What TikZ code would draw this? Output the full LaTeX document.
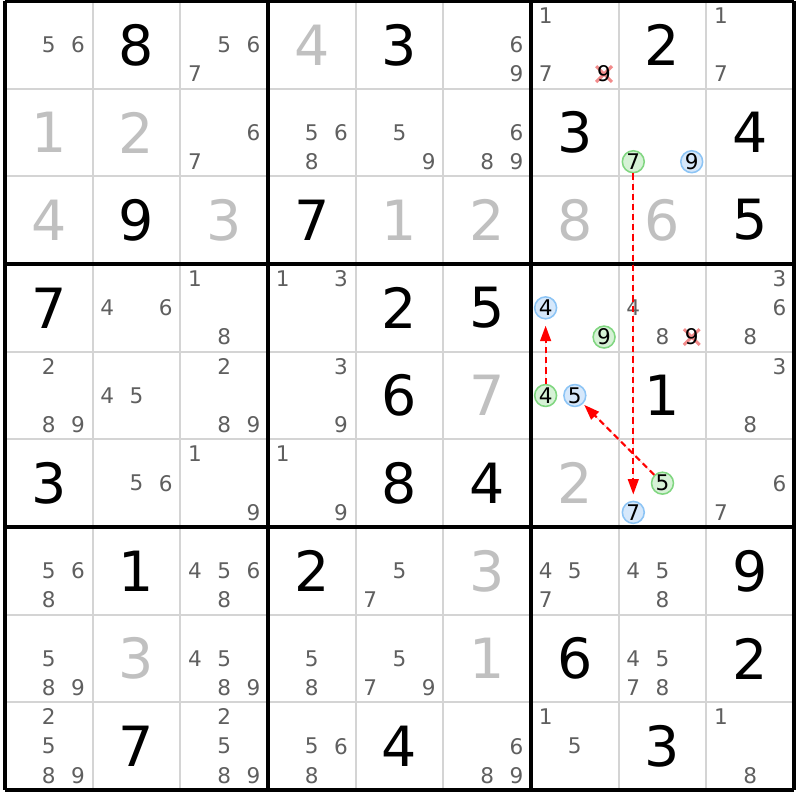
\documentclass[tikz,border=0pt]{standalone}
\usepackage{fontspec}
\setmainfont{DejaVu Sans}
\usetikzlibrary{arrows.meta}
\definecolor{candgray}{HTML}{5F5F5F}
\definecolor{solvedgray}{HTML}{C0C0C0}
\definecolor{gridgray}{HTML}{D4D4D4}
\definecolor{onfill}{HTML}{D6F2D6}
\definecolor{ondraw}{HTML}{80D680}
\definecolor{offfill}{HTML}{D6E8FB}
\definecolor{offdraw}{HTML}{8CC4F5}
\definecolor{strikered}{HTML}{F28B8B}
\definecolor{linkred}{HTML}{FF0000}
\tikzset{
	given/.style={font=\fontsize{18}{18}\selectfont, text=black, inner sep=0},
	solved/.style={font=\fontsize{18}{18}\selectfont, text=solvedgray, inner sep=0},
	cand/.style={font=\fontsize{7}{7}\selectfont, text=candgray, inner sep=0},
	oncand/.style={circle, draw=ondraw, fill=onfill, line width=.5pt, inner sep=0, minimum size=.25cm, font=\fontsize{7}{7}\selectfont},
	offcand/.style={circle, draw=offdraw, fill=offfill, line width=.5pt, inner sep=0, minimum size=.25cm, font=\fontsize{7}{7}\selectfont},
	strike/.style={draw=strikered, line width=1pt},
	link/.style={->,>={Triangle[width=3.5pt,length=5pt]}, draw=linkred, fill=linkred, line width=.65pt, dash pattern=on 2pt off 1.3pt, shorten >=2pt},
	thinline/.style={draw=gridgray, line width=.65pt},
	boxline/.style={draw=black, line width=1.1pt}
}

\begin{document}
\begin{tikzpicture}
	\fill[white] (-0.057,0.0114) rectangle (9.068,-9.114);
	\useasboundingbox (-0.057,0.0114) rectangle (9.068,-9.114);
	
	\foreach \i in {1,2,4,5,7,8} {
		\draw[thinline] (\i,0) -- (\i,-9);
		\draw[thinline] (0,-\i) -- (9,-\i);
	}
	\foreach \i in {0,3,6,9} {
		\draw[boxline] (\i,0) -- (\i,-9);
		\draw[boxline] (0,-\i) -- (9,-\i);
	}
	
	\foreach \r/\c/\d in {1/2/8, 1/5/3, 1/8/2, 2/7/3, 2/9/4, 3/2/9, 3/4/7, 3/9/5,
		4/1/7, 4/5/2, 4/6/5, 5/5/6, 5/8/1, 6/1/3, 6/5/8, 6/6/4,
		7/2/1, 7/4/2, 7/9/9, 8/7/6, 8/9/2, 9/2/7, 9/5/4, 9/8/3}
		\node[given] (n\r\c) at (\c-0.5,-\r+0.5) {\d};
	
	\foreach \r/\c/\d in {1/4/4, 2/1/1, 2/2/2, 3/1/4, 3/3/3, 3/5/1, 3/6/2, 3/7/8,
		3/8/6, 5/6/7, 6/7/2, 7/6/3, 8/2/3, 8/6/1}
		\node[solved] (n\r\c) at (\c-0.5,-\r+0.5) {\d};
	
	\foreach \r/\c/\ds in {1/1/{5,6}, 1/3/{5,6,7}, 1/6/{6,9}, 1/7/{1,7}, 1/9/{1,7},
		2/3/{6,7}, 2/4/{5,6,8}, 2/5/{5,9}, 2/6/{6,8,9},
		4/2/{4,6}, 4/3/{1,8}, 4/4/{1,3}, 4/8/{4,8}, 4/9/{3,6,8},
		5/1/{2,8,9}, 5/2/{4,5}, 5/3/{2,8,9}, 5/4/{3,9}, 5/9/{3,8},
		6/2/{5,6}, 6/3/{1,9}, 6/4/{1,9}, 6/9/{6,7},
		7/1/{5,6,8}, 7/3/{4,5,6,8}, 7/5/{5,7}, 7/7/{4,5,7}, 7/8/{4,5,8},
		8/1/{5,8,9}, 8/3/{4,5,8,9}, 8/4/{5,8}, 8/5/{5,7,9}, 8/8/{4,5,7,8},
		9/1/{2,5,8,9}, 9/3/{2,5,8,9}, 9/4/{5,6,8}, 9/6/{6,8,9}, 9/7/{1,5}, 9/9/{1,8}}
		\foreach \d in \ds {
			\pgfmathsetmacro\cx{\c-1+(2*mod(\d-1,3)+1)/6}
			\pgfmathsetmacro\cy{-(\r-1)-(2*int((\d-1)/3)+1)/6}
			\node[cand] (c\r\c\d) at (\cx,\cy) {\d};
		}
	
	\coordinate (x17) at (6+5/6,-5/6);
	\coordinate (x48) at (7+5/6,-3-5/6);
	\draw[strike] (x17) ++(-.09,.09) -- ++(.18,-.18) (x17) ++(.09,.09) -- ++(-.18,-.18);
	\draw[strike] (x48) ++(-.09,.09) -- ++(.18,-.18) (x48) ++(.09,.09) -- ++(-.18,-.18);
	\node[cand, text=black] (c179) at (x17) {9};
	\node[cand, text=black] (c489) at (x48) {9};
	
	\node[oncand] (A7) at (7+1/6,-1-5/6) {7};
	\node[offcand] (B9) at (7+5/6,-1-5/6) {9};
	\node[offcand] (B4) at (6+1/6,-3.5) {4};
	\node[oncand] (A9) at (6+5/6,-3-5/6) {9};
	\node[oncand] (A4) at (6+1/6,-4.5) {4};
	\node[offcand] (B5) at (6.5,-4.5) {5};
	\node[oncand] (A5) at (7.5,-5.5) {5};
	\node[offcand] (B7) at (7+1/6,-5-5/6) {7};
	
	\draw[link] (A7) -- (B7);
	\draw[link, shorten >=.5pt] (A5) -- (B5);
	\draw[link] (A4) -- (B4);
\end{tikzpicture}
\end{document}
